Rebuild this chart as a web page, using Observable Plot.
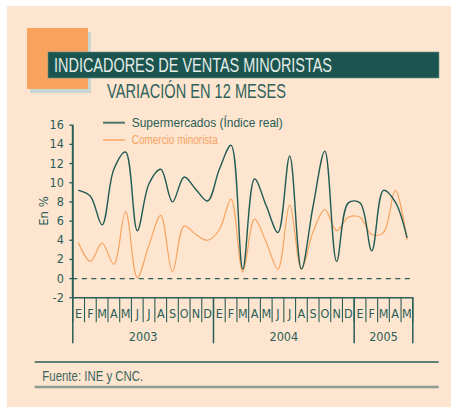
<!DOCTYPE html>
<html>
<head>
<meta charset="utf-8">
<script src="https://cdn.jsdelivr.net/npm/d3@7"></script>
<script src="https://cdn.jsdelivr.net/npm/@observablehq/plot@0.6"></script>
<style>
  html, body { margin: 0; padding: 0; background: #ffffff; }
  #wrap { position: relative; width: 451px; height: 407px; overflow: hidden; }
  #deco { position: absolute; left: 0; top: 0; }
  #chart { position: absolute; left: 0; top: 0; }
</style>
</head>
<body>
<div id="wrap">
  <svg id="deco" width="451" height="407" xmlns="http://www.w3.org/2000/svg"></svg>
  <div id="chart"></div>
</div>
<script>
// ---- data ----
const title = "INDICADORES DE VENTAS MINORISTAS";
const subtitle = "VARIACIÓN EN 12 MESES";
const yLabel = "En %";
const source = "Fuente: INE y CNC.";
const seriesNames = ["Supermercados (Índice real)", "Comercio minorista"];
const seriesColors = ["#1f5a53", "#f7a460"];
const legendSwatchColors = ["#4d776f", "#f7a868"];
const meses = ["E","F","M","A","M","J","J","A","S","O","N","D",
               "E","F","M","A","M","J","J","A","S","O","N","D",
               "E","F","M","A","M"];
const years = ["2003", "2004", "2005"];
const yearMonths = [12, 12, 5];
const supermercados = [9.2, 8.6, 5.6, 11.4, 13.2, 5.0, 9.9, 11.4, 8.0, 10.6, 9.3, 8.1,
                       11.4, 13.9, 1.0, 10.4, 7.6, 4.8, 12.8, 1.0,
                       7.6, 13.3, 1.8, 7.9, 7.9, 2.9, 9.2, 8.0, 4.3];
const comercio = [3.7, 1.8, 3.7, 1.5, 7.0, 0.1, 3.5, 6.6, 0.7, 5.5, 4.6, 4.0,
                  5.1, 8.3, 0.7, 6.2, 3.8, 1.0, 7.7, 1.0,
                  4.9, 7.2, 5.0, 6.4, 6.4, 4.6, 4.8, 9.2, 4.1];
const yTicks = [-2, 0, 2, 4, 6, 8, 10, 12, 14, 16];

// ---- decoration (panel, header, legend, footer) ----
const NS = "http://www.w3.org/2000/svg";
const deco = document.getElementById("deco");
function el(tag, attrs, text) {
  const e = document.createElementNS(NS, tag);
  for (const k in attrs) e.setAttribute(k, attrs[k]);
  if (text != null) e.textContent = text;
  deco.appendChild(e);
  return e;
}
const FONT = '"Liberation Sans Narrow", "DejaVu Sans Condensed", "Liberation Sans", sans-serif';
const HFONT = '"Liberation Sans", Arial, sans-serif';
el("rect", {x: 7, y: 6, width: 444, height: 401, fill: "#fde5cf"});
el("rect", {x: 30, y: 32, width: 61, height: 61, fill: "#c9d5d0"});
el("rect", {x: 27, y: 28, width: 61, height: 61, fill: "#f7a35e"});
el("rect", {x: 48, y: 52, width: 391, height: 26, fill: "#1c5550", stroke: "#6f918a", "stroke-width": 0.6});
el("text", {x: 54, y: 72, "font-family": HFONT, "font-size": 19.5, fill: "#e4ece8",
            textLength: 278, lengthAdjust: "spacingAndGlyphs"}, title);
el("text", {x: 107, y: 98, "font-family": HFONT, "font-size": 19.5, fill: "#2f625b",
            textLength: 179, lengthAdjust: "spacingAndGlyphs"}, subtitle);
// legend
const legendY = [122.7, 140];
const legendBase = [126.7, 144];
const legendLen = [151, 86];
seriesNames.forEach((name, k) => {
  el("line", {x1: 103, x2: 125, y1: legendY[k], y2: legendY[k], stroke: legendSwatchColors[k], "stroke-width": k === 0 ? 2 : 1.5});
  el("text", {x: 131.7, y: legendBase[k], "font-family": HFONT, "font-size": 13,
              fill: k === 0 ? "#2a5e57" : "#f5a464", textLength: legendLen[k], lengthAdjust: "spacingAndGlyphs"}, name);
});
// y label
el("text", {x: 0, y: 0, transform: "translate(43.5,211) rotate(-90)", "text-anchor": "middle",
            "dominant-baseline": "central", "font-family": FONT, "font-size": 13, fill: "#2a5e57"}, yLabel);
// footer
el("line", {x1: 34.7, x2: 438.7, y1: 362, y2: 362, stroke: "#2a5e57", "stroke-width": 1.3});
el("line", {x1: 34.7, x2: 438.7, y1: 387, y2: 387, stroke: "#8d9d90", "stroke-width": 2.5});
el("text", {x: 42.3, y: 380.7, "font-family": HFONT, "font-size": 15, fill: "#3d6660",
            textLength: 101, lengthAdjust: "spacingAndGlyphs"}, source);

// ---- chart ----
const superData = meses.map((m, i) => ({i, v: supermercados[i]}));
const comData = meses.map((m, i) => ({i, v: comercio[i]}));
const boundaries = d3.range(meses.length + 1).map(i => i - 0.5);
const cum = d3.cumsum(yearMonths);
const yearBounds = [-0.5, ...Array.from(cum, c => c - 0.5)];
const yearCenters = years.map((y, k) => (yearBounds[k] + yearBounds[k + 1]) / 2);
const yearByCenter = new Map(yearCenters.map((c, k) => [c, years[k]]));
const idx = meses.map((m, i) => i);

const plot = Plot.plot({
  width: 451,
  height: 350,
  marginLeft: 72.3,
  marginRight: 38.7,
  marginTop: 124.7,
  marginBottom: 52.7,
  style: {background: "transparent", color: "#2a5e57", fontFamily: FONT, fontSize: "12.5px"},
  x: {type: "linear", domain: [-0.5, meses.length - 0.5]},
  y: {domain: [-2, 16]},
  marks: [
    Plot.ruleY([0], {stroke: "#2a5e57", strokeWidth: 1.2, strokeDasharray: "5,4.5"}),
    Plot.line(comData, {x: "i", y: "v", stroke: seriesColors[1], strokeWidth: 1.2, curve: "catmull-rom"}),
    Plot.line(superData, {x: "i", y: "v", stroke: seriesColors[0], strokeWidth: 1.4, curve: "catmull-rom"}),
    Plot.axisY({ticks: yTicks, tickSize: 3, tickPadding: 6, tickFormat: d => String(d), label: null, strokeWidth: 1.3}),
    Plot.axisX({ticks: boundaries, tickSize: 25, tickFormat: () => "", label: null, strokeWidth: 1.1}),
    Plot.axisX({ticks: yearBounds, tickSize: 46, tickFormat: () => "", label: null, strokeWidth: 1.5}),
    Plot.axisX({ticks: idx, tickSize: 0, tickPadding: 11, tickFormat: i => meses[i], label: null}),
    Plot.axisX({ticks: yearCenters, tickSize: 0, tickPadding: 34, tickFormat: c => yearByCenter.get(c), label: null}),
    Plot.ruleX([-0.5], {stroke: "#2a5e57", strokeWidth: 2}),
    Plot.ruleY([-2], {stroke: "#2a5e57", strokeWidth: 1.6})
  ]
});
document.getElementById("chart").appendChild(plot);
</script>
</body>
</html>
